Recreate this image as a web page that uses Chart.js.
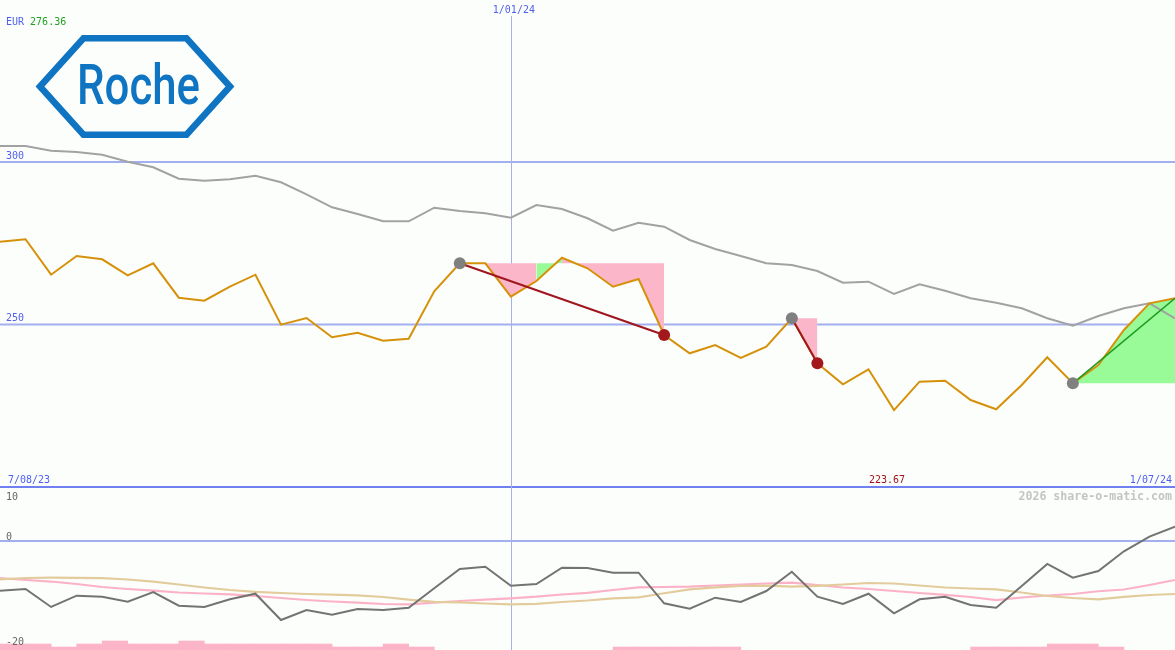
<!DOCTYPE html>
<html><head><meta charset="utf-8">
<script src="https://cdn.jsdelivr.net/npm/chart.js"></script>
<style>
html,body{margin:0;padding:0;background:#fcfefc;}
#wrap{position:relative;width:1175px;height:650px;overflow:hidden;background:#fcfefc;}
#c{position:absolute;left:0;top:0;}
#logo{position:absolute;left:0;top:0;}
</style></head><body>
<div id="wrap">
<canvas id="c" width="1175" height="650"></canvas>
<svg id="logo" width="250" height="150" viewBox="0 0 250 150">
 <polygon points="40,86.5 83.5,38.3 186.5,38.3 230,86.5 186.5,134.7 83.5,134.7" fill="none" stroke="#0f75c2" stroke-width="6.6"/>
 <text x="77" y="103.5" font-family="Roboto" font-weight="500" font-size="56" fill="#0f75c2" textLength="123" lengthAdjust="spacingAndGlyphs">Roche</text>
</svg>
</div>
<script>
// ---- data ----
const currency = 'EUR';
const lastQuote = '276.36';
const minQuote = '223.67';
const watermark = '2026 share-o-matic.com';
const dateLabels = ['7/08/23', '1/01/24', '1/07/24'];
const dateIndex = [0, 20, 46];
const priceTicks = [300, 250];
const oscTicks = [10, 0, -20];

const price = [275.48, 276.22, 265.32, 271.08, 270.06, 265.14, 268.83, 258.25, 257.32, 261.63,
  265.32, 249.94, 252.0, 246.06, 247.48, 245.02, 245.63, 260.22, 268.83, 268.83,
  258.55, 263.38, 270.55, 267.29, 261.63, 264.0, 246.77, 241.14, 243.69, 239.69,
  243.17, 251.91, 238.06, 231.6, 236.22, 223.67, 232.4, 232.71, 226.77, 223.91,
  231.38, 239.91, 231.91, 237.54, 248.31, 256.52, 258.06];

const average = [304.92, 304.92, 303.48, 303.08, 302.25, 300.09, 298.37, 294.86, 294.25, 294.68,
  295.78, 293.75, 290.06, 286.06, 284.0, 281.75, 281.75, 285.94, 284.92, 284.22,
  282.86, 286.77, 285.54, 282.68, 278.86, 281.32, 280.09, 276.0, 273.23, 271.08,
  268.83, 268.31, 266.46, 262.86, 263.17, 259.38, 262.37, 260.4, 258.06, 256.71,
  254.98, 251.91, 249.63, 252.62, 254.98, 256.52, 251.91];

const oscillator = [-9.43, -9.11, -12.52, -10.38, -10.57, -11.52, -9.68, -12.28, -12.52, -11.06,
  -10.0, -14.99, -13.09, -13.98, -12.90, -13.09, -12.66, -8.98, -5.31, -4.88,
  -8.48, -8.16, -5.07, -5.12, -6.02, -6.02, -11.82, -12.85, -10.76, -11.57,
  -9.49, -5.83, -10.57, -11.95, -10.0, -13.72, -11.06, -10.57, -12.14, -12.66,
  -8.54, -4.36, -6.96, -5.69, -1.95, 0.82, 2.71];

const signalPink = [-7.02, -7.40, -7.69, -8.16, -8.73, -9.11, -9.43, -9.77, -9.96, -10.11,
  -10.44, -10.82, -11.20, -11.48, -11.71, -11.95, -12.01, -11.71, -11.39, -11.14,
  -10.87, -10.57, -10.15, -9.83, -9.30, -8.79, -8.73, -8.67, -8.44, -8.25,
  -8.06, -7.91, -8.35, -8.82, -9.11, -9.49, -9.87, -10.21, -10.63, -11.20,
  -10.72, -10.34, -10.06, -9.53, -9.20, -8.35, -7.40];

const signalTan = [-7.27, -7.02, -6.96, -6.98, -7.06, -7.31, -7.72, -8.25, -8.82, -9.30,
  -9.64, -9.87, -10.06, -10.19, -10.30, -10.63, -11.14, -11.54, -11.63, -11.86,
  -12.01, -11.92, -11.57, -11.29, -10.87, -10.68, -9.92, -9.17, -8.79, -8.54,
  -8.48, -8.67, -8.50, -8.25, -7.97, -8.06, -8.44, -8.82, -9.01, -9.17,
  -9.77, -10.44, -10.82, -11.06, -10.59, -10.25, -10.06];

const volumeLevel = [2, 2, 1, 2, 3, 2, 2, 3, 2, 2,
  2, 2, 2, 1, 1, 2, 1, null, null, null,
  null, null, null, null, 1, 1, 1, 1, 1, null,
  null, null, null, null, null, null, null, null, 1, 1,
  1, 2, 2, 1, null, null, null];

const tradeEntry = [18, 31, 42];
const tradeExit = [26, 32, 46];
const tradeOpen = [false, false, true];

// ---- styles ----
const C = {
  bg: '#fcfefc', price: '#d6910a', avg: '#a2a2a2', osc: '#737373', pink: '#fcb2c6', tan: '#e2cc9c',
  vol: '#fbb4c8', fillLoss: '#fbb6c9', fillGain: '#98fb98', entry: '#808080', exit: '#a3181c',
  lossLine: '#a0161e', gainLine: '#229a22', grid: '#a3b0f0', sep: '#7080f0', vline: '#a8b0e6',
  blue: '#5060ee', green: '#22a022', red: '#a0141a', gray: '#666666', wm: '#c4c4c4'
};
const N = price.length;
const pts = arr => arr.map((v, i) => ({x: i, y: v}));

const datasets = [];
// trade markers
const markerData = [], markerColors = [];
tradeEntry.forEach((e, t) => {
  markerData.push({x: e, y: price[e]}); markerColors.push(C.entry);
  if (!tradeOpen[t]) { markerData.push({x: tradeExit[t], y: price[tradeExit[t]]}); markerColors.push(C.exit); }
});
datasets.push({type: 'line', data: markerData, showLine: false, pointRadius: 6, pointBorderWidth: 0,
  pointBackgroundColor: markerColors, yAxisID: 'yP', order: 0});
// trade lines
tradeEntry.forEach((e, t) => {
  const x = tradeExit[t];
  const gain = price[x] > price[e];
  datasets.push({type: 'line', data: [{x: e, y: price[e]}, {x: x, y: price[x]}],
    borderColor: gain ? C.gainLine : C.lossLine, borderWidth: gain ? 1.6 : 2, pointRadius: 0,
    yAxisID: 'yP', order: 1});
});
// price
datasets.push({type: 'line', data: pts(price), borderColor: C.price, borderWidth: 2, pointRadius: 0,
  tension: 0, yAxisID: 'yP', order: 2});
// average
datasets.push({type: 'line', data: pts(average), borderColor: C.avg, borderWidth: 2, pointRadius: 0,
  yAxisID: 'yP', order: 3});
// trade fills
tradeEntry.forEach((e, t) => {
  const ref = price[e];
  const data = price.map((v, i) => ({x: i, y: (i >= e && i <= tradeExit[t]) ? v : null}));
  datasets.push({type: 'line', data, borderWidth: 0, borderColor: 'rgba(0,0,0,0)', pointRadius: 0,
    backgroundColor: C.fillLoss, fill: {target: {value: ref}}, spanGaps: false,
    segment: {backgroundColor: ctx => ctx.p1.parsed.y > ref ? C.fillGain : C.fillLoss},
    yAxisID: 'yP', order: 4});
});
// oscillator panel
datasets.push({type: 'line', data: pts(oscillator), borderColor: C.osc, borderWidth: 2, pointRadius: 0, yAxisID: 'yO', order: 5});
datasets.push({type: 'line', data: pts(signalPink), borderColor: C.pink, borderWidth: 2.2, pointRadius: 0, yAxisID: 'yO', order: 7});
datasets.push({type: 'line', data: pts(signalTan), borderColor: C.tan, borderWidth: 2.2, pointRadius: 0, yAxisID: 'yO', order: 6});
datasets.push({type: 'bar', data: volumeLevel.map((v, i) => ({x: i + 0.5, y: v})), backgroundColor: C.vol,
  borderWidth: 0, barPercentage: 1, categoryPercentage: 1, yAxisID: 'yV', order: 9});

const decor = {
  id: 'decor',
  beforeDraw(chart) {
    const ctx = chart.ctx;
    ctx.save(); ctx.fillStyle = C.bg; ctx.fillRect(0, 0, chart.width, chart.height); ctx.restore();
  },
  beforeDatasetsDraw(chart) {
    const ctx = chart.ctx, s = chart.scales, a = chart.chartArea;
    ctx.save();
    ctx.lineWidth = 2; ctx.strokeStyle = C.grid;
    priceTicks.forEach(v => { const y = s.yP.getPixelForValue(v); ctx.beginPath(); ctx.moveTo(a.left, y); ctx.lineTo(a.right, y); ctx.stroke(); });
    const y0 = s.yO.getPixelForValue(0);
    ctx.beginPath(); ctx.moveTo(a.left, y0); ctx.lineTo(a.right, y0); ctx.stroke();
    ctx.strokeStyle = C.sep;
    const yb = s.yP.getPixelForValue(200);
    ctx.beginPath(); ctx.moveTo(a.left, yb); ctx.lineTo(a.right, yb); ctx.stroke();
    ctx.lineWidth = 1; ctx.strokeStyle = C.vline;
    const xv = Math.round(s.x.getPixelForValue(dateIndex[1])) + 0.5;
    ctx.beginPath(); ctx.moveTo(xv, 16); ctx.lineTo(xv, a.bottom); ctx.stroke();
    ctx.restore();
  },
  afterDraw(chart) {
    const ctx = chart.ctx, s = chart.scales, a = chart.chartArea;
    ctx.save();
    ctx.font = '10px "DejaVu Sans Mono"';
    ctx.textAlign = 'left'; ctx.textBaseline = 'alphabetic';
    ctx.fillStyle = C.blue; ctx.fillText(currency, 6, 25);
    const w = ctx.measureText(currency + ' ').width;
    ctx.fillStyle = C.green; ctx.fillText(lastQuote, 6 + w, 25);
    ctx.fillStyle = C.blue;
    priceTicks.forEach(v => ctx.fillText(String(v), 6, s.yP.getPixelForValue(v) - 3));
    const yb = s.yP.getPixelForValue(200);
    ctx.fillText(dateLabels[0], 8, yb - 4);
    ctx.textAlign = 'center';
    ctx.fillText(dateLabels[1], s.x.getPixelForValue(dateIndex[1]) + 3, 13);
    ctx.textAlign = 'right';
    ctx.fillText(dateLabels[2], a.right - 3, yb - 4);
    let mi = 0; price.forEach((v, i) => { if (v < price[mi]) mi = i; });
    ctx.textAlign = 'center'; ctx.fillStyle = C.red;
    ctx.fillText(minQuote, s.x.getPixelForValue(mi) - 7, yb - 4);
    ctx.textAlign = 'left'; ctx.fillStyle = C.gray;
    oscTicks.forEach(v => {
      const y = s.yO.getPixelForValue(v);
      ctx.fillText(String(v), 6, y < 495 ? y + 12 : y - 1.5);
    });
    ctx.font = 'bold 11.6px "DejaVu Sans Mono"';
    ctx.textAlign = 'right'; ctx.fillStyle = C.wm;
    ctx.fillText(watermark, a.right - 3, 500);
    ctx.restore();
  }
};

new Chart(document.getElementById('c'), {
  type: 'line',
  data: {datasets},
  options: {
    responsive: false, animation: false, devicePixelRatio: 1,
    layout: {padding: 0, autoPadding: false},
    plugins: {legend: {display: false}, tooltip: {enabled: false}},
    elements: {line: {tension: 0, borderJoinStyle: 'miter'}},
    scales: {
      x: {type: 'linear', min: 0, max: N - 1, offset: false, display: false, grid: {offset: false}},
      yP: {type: 'linear', min: 149.846, max: 349.846, display: false},
      yO: {type: 'linear', min: -20.683, max: 102.657, display: false},
      yV: {type: 'linear', min: 0, max: 216.667, display: false}
    }
  },
  plugins: [decor]
});
</script>
</body></html>
